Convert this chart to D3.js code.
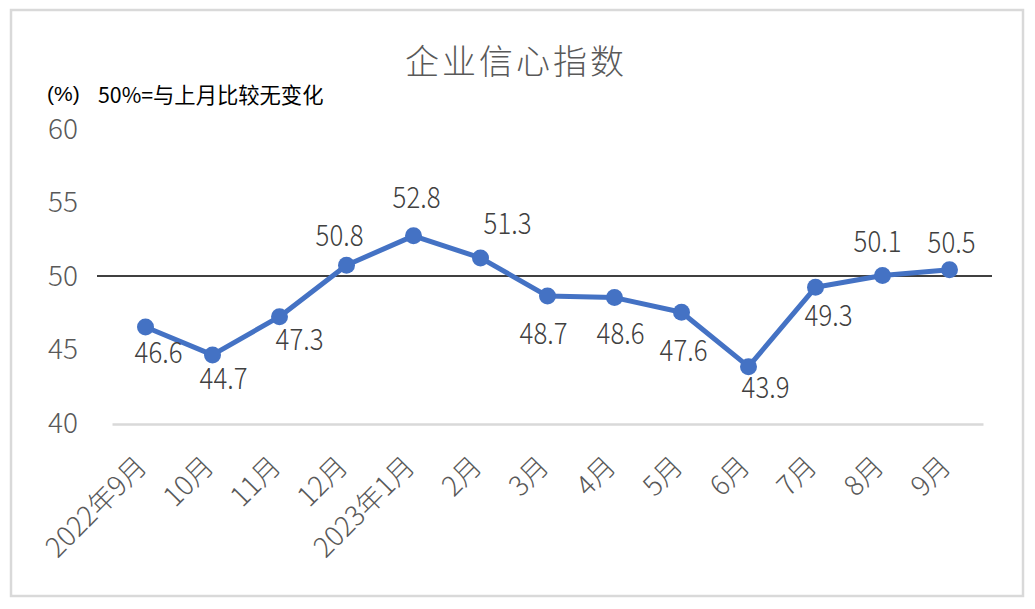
<!DOCTYPE html>
<html><head><meta charset="utf-8">
<script src="https://cdn.jsdelivr.net/npm/d3@7/dist/d3.min.js"></script>
<style>body{margin:0;background:#fff;}svg{display:block;}</style>
</head><body>
<svg id="chart" width="1035" height="609"></svg>
<script>
const categories = ["2022年9月","10月","11月","12月","2023年1月","2月","3月","4月","5月","6月","7月","8月","9月"];
const values = [46.6, 44.7, 47.3, 50.8, 52.8, 51.3, 48.7, 48.6, 47.6, 43.9, 49.3, 50.1, 50.5];
const yTicks = [40, 45, 50, 55, 60];
const referenceValue = 50;
const titleText = "企业信心指数";
const unitText = "(%)";
const noteText = "50%=与上月比较无变化";
// label layout (pixel nudges relative to each point)
const labelOffsets = [[13,26],[11,24],[20,23],[-7,-29],[3,-38],[27,-34],[-4,38],[6,37],[2,39],[17,21],[13,29],[-5,-33],[2,-27]];

const svg = d3.select("#chart");
const cjk = "'Noto Sans CJK SC', 'Liberation Sans', sans-serif";

svg.append("rect").attr("x",11).attr("y",10).attr("width",1012).attr("height",586)
  .attr("fill","#fff").attr("stroke","#d9d9d9").attr("stroke-width",2.5);

const x = d3.scaleBand().domain(categories).range([112, 983]);
const y = d3.scaleLinear().domain([40, 60]).range([424, 130]);

svg.append("text").attr("x",516).attr("y",59).attr("text-anchor","middle")
  .attr("dominant-baseline","central").attr("font-family",cjk).attr("font-size",34).attr("font-weight",300)
  .attr("letter-spacing",3).attr("fill","#595959").text(titleText);

svg.append("text").attr("x",47).attr("y",93).attr("dominant-baseline","central")
  .attr("font-family","'Liberation Sans', sans-serif").attr("font-size",21).attr("fill","#000").text(unitText);
svg.append("text").attr("x",98).attr("y",93).attr("dominant-baseline","central")
  .attr("font-family",cjk).attr("font-size",21.3).attr("fill","#000").text(noteText);

// y axis labels
const yAxis = d3.axisLeft(y).tickValues(yTicks).tickSize(0).tickPadding(0);
const gy = svg.append("g").attr("transform","translate(78,0)").call(yAxis);
gy.select(".domain").remove();
gy.selectAll("text").attr("font-family",cjk).attr("font-weight",300).attr("font-size",28)
  .attr("fill","#595959").attr("dy","0.3em");

// x axis
const xAxis = d3.axisBottom(x).tickSize(0).tickPadding(0);
const gx = svg.append("g").attr("transform","translate(0,424)").call(xAxis);
gx.select(".domain").attr("stroke","#d9d9d9").attr("stroke-width",2.5);
gx.selectAll("text").attr("font-family",cjk).attr("font-size",27.5).attr("font-weight",300).attr("fill","#595959")
  .attr("text-anchor","end").attr("dy",null).attr("y",0)
  .attr("transform","translate(3,44) rotate(-45)");

// reference line
svg.append("line").attr("x1",97).attr("x2",992).attr("y1",y(referenceValue)-1).attr("y2",y(referenceValue)-1)
  .attr("stroke","#000").attr("stroke-width",1.6);

const cx = d => x(d) + x.bandwidth()/2;
const line = d3.line().x((d,i)=>cx(categories[i])).y(d=>y(d));
svg.append("path").datum(values).attr("d",line).attr("fill","none")
  .attr("stroke","#4472c4").attr("stroke-width",5).attr("stroke-linejoin","round");

svg.selectAll("circle.pt").data(values).enter().append("circle").attr("class","pt")
  .attr("cx",(d,i)=>cx(categories[i])).attr("cy",d=>y(d)).attr("r",8.5).attr("fill","#4472c4");

svg.selectAll("text.lbl").data(values).enter().append("text").attr("class","lbl")
  .attr("transform",(d,i)=>`translate(${cx(categories[i]) + labelOffsets[i][0]},${y(d) + labelOffsets[i][1] - 3}) scale(0.86,1)`)
  .attr("text-anchor","middle").attr("dominant-baseline","central")
  .attr("font-family",cjk).attr("font-weight",300).attr("font-size",30).attr("fill","#404040")
  .text(d=>d.toFixed(1));
</script>
</body></html>
